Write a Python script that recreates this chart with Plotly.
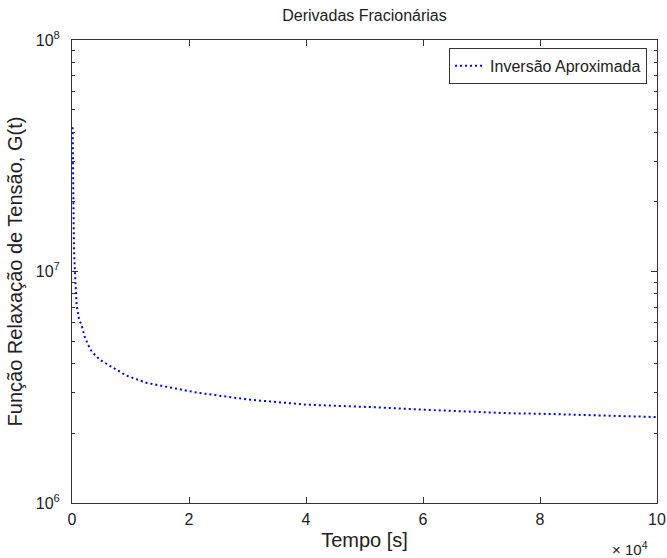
import plotly.graph_objects as go

# tempo (s) e G(t) (Pa)
tempo = [100, 150, 200, 340, 500, 650, 800, 1000, 1200, 1600, 2200, 2800,
         3400, 4800, 6500, 9300, 12800, 17300, 21300, 30000, 35600, 40000,
         52000, 60000, 75000, 80000, 90000, 100000]
G = [4.2e7, 2.5e7, 1.6e7, 1.24e7, 1.0e7, 7.8e6, 7.1e6, 6.7e6, 6.2e6, 5.9e6,
     5.2e6, 4.8e6, 4.5e6, 4.15e6, 3.9e6, 3.55e6, 3.3e6, 3.13e6, 3.0e6,
     2.8e6, 2.72e6, 2.66e6, 2.59e6, 2.53e6, 2.44e6, 2.43e6, 2.39e6, 2.35e6]

x_ticks = [0, 20000, 40000, 60000, 80000, 100000]
x_labels = ['0', '2', '4', '6', '8', '10']
y_ticks = [1e6, 1e7, 1e8]
y_labels = ['10<sup>6</sup>', '10<sup>7</sup>', '10<sup>8</sup>']
y_minor = [m * 10 ** e for e in (6, 7) for m in range(2, 10)]

fonte = 'Arial, Liberation Sans, sans-serif'

fig = go.Figure()
fig.add_trace(go.Scatter(x=tempo, y=G, mode='lines', name='Inversão Aproximada',
                         line=dict(color='#0000ff', width=2, dash='2px,3px')))

eixo = dict(showline=True, linecolor='#333', linewidth=1, mirror='ticks',
            ticks='inside', ticklen=6, tickcolor='#333', showgrid=False,
            zeroline=False, automargin=False, tickfont=dict(size=16, color='#222'))

fig.update_xaxes(range=[0, 100000], tickvals=x_ticks, ticktext=x_labels,
                 ticklabelstandoff=2,
                 title=dict(text='Tempo [s]', font=dict(size=20, color='#222'), standoff=5),
                 **eixo)
fig.update_yaxes(type='log', range=[6, 8], tickvals=y_ticks, ticktext=y_labels,
                 ticklabelstandoff=8,
                 minor=dict(tickvals=y_minor, ticks='inside', ticklen=3, tickcolor='#333'),
                 title=dict(text='Função Relaxação de Tensão, G(t)',
                            font=dict(size=20, color='#222'), standoff=7),
                 **eixo)

fig.add_annotation(text='× 10<sup>4</sup>', xref='paper', yref='paper', x=0.988, y=-0.099,
                   xanchor='right', yanchor='middle', showarrow=False,
                   font=dict(size=15, color='#222'))

fig.update_layout(
    width=667, height=558,
    margin=dict(l=72, r=10, t=40, b=55),
    paper_bgcolor='white', plot_bgcolor='white',
    font=dict(family=fonte, color='#222'),
    title=dict(text='Derivadas Fracionárias', x=0.5465, xanchor='center',
               y=0.973, yanchor='middle', font=dict(size=16, color='#222')),
    legend=dict(x=0.983, y=0.983, xanchor='right', yanchor='top',
                bgcolor='white', bordercolor='#333', borderwidth=1,
                font=dict(size=16, color='#222')),
    showlegend=True,
)

fig.write_html('out.html', config={'displayModeBar': False},
               post_script="document.body.style.margin='0';")
